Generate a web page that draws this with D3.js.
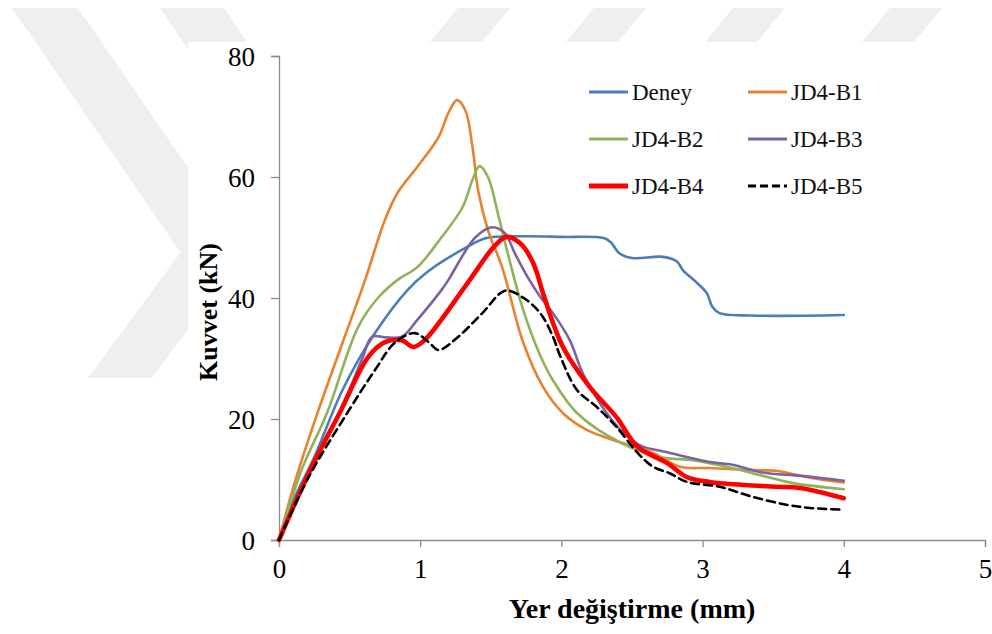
<!DOCTYPE html>
<html>
<head>
<meta charset="utf-8">
<script src="https://cdn.jsdelivr.net/npm/d3@7"></script>
<style>
  body { margin: 0; background: #fff; }
  svg { display: block; font-family: 'Liberation Serif', 'Times New Roman', serif; }
</style>
</head>
<body>
<div id="chart"></div>
<script>
// values: [displacement mm, force kN]
const deney = [[0,0],[0.1,6.5],[0.25,13.7],[0.45,24.8],[0.68,34.2],[0.91,41.3],[1.05,44.3],[1.33,48.4],[1.47,49.9],[1.73,50.2],[2.0,50.1],[2.3,49.9],[2.35,49.2],[2.41,47.4],[2.5,46.6],[2.72,46.8],[2.82,46.0],[2.86,44.6],[2.96,42.5],[3.03,40.8],[3.07,38.5],[3.12,37.5],[3.34,37.1],[4.0,37.2]]
const jd4b1 = [[0,0],[0.11,9.4],[0.28,21.5],[0.45,32.6],[0.61,43],[0.75,52.9],[0.84,57.4],[0.98,61.7],[1.13,66.6],[1.2,70.6],[1.26,72.7],[1.32,71],[1.37,65],[1.41,57.8],[1.48,51.2],[1.58,45.1],[1.73,32.6],[1.87,25.3],[2.01,21],[2.18,18.2],[2.41,16.2],[2.65,14.4],[2.84,12.1],[3.05,11.9],[3.29,11.6],[3.53,11.4],[3.76,10.3],[4.0,9.5]]
const jd4b2 = [[0,0],[0.16,11.6],[0.34,21],[0.56,35.2],[0.7,40],[0.84,43],[0.98,45.1],[1.15,50],[1.3,55],[1.37,59.5],[1.42,61.8],[1.48,60],[1.55,54],[1.62,47.4],[1.73,38],[1.85,30.5],[1.94,26.4],[2.11,21],[2.41,16.2],[2.7,13.7],[2.93,13.2],[3.17,12.1],[3.41,10.7],[3.64,9.4],[4.0,8.4]]
const jd4b3 = [[0,0],[0.25,13],[0.41,20],[0.59,30],[0.66,33.6],[0.75,33.5],[0.87,33.6],[0.98,36.4],[1.15,41.3],[1.2,43],[1.39,50],[1.51,51.7],[1.6,50.7],[1.67,47.4],[1.76,43.5],[1.85,40.2],[1.94,37.5],[2.06,33],[2.15,27.6],[2.29,22],[2.44,17.7],[2.56,15.6],[2.75,14.5],[2.89,13.7],[3.05,12.9],[3.22,12.4],[3.41,11.2],[3.7,10.6],[4.0,9.8]]
const jd4b4 = [[0,0],[0.21,11],[0.44,21.5],[0.63,30.2],[0.75,32.7],[0.87,33],[0.95,31.9],[1.03,33],[1.33,42.3],[1.52,48.4],[1.61,50.1],[1.71,49],[1.8,45.8],[1.87,40.8],[1.94,35.9],[2.02,31.5],[2.2,25.3],[2.39,20.3],[2.54,15.4],[2.75,12.7],[2.89,10.4],[3.05,9.6],[3.29,9.1],[3.53,8.8],[3.69,8.6],[4.0,6.9]]
const jd4b5 = [[0,0],[0.21,10.4],[0.47,20.5],[0.68,28.1],[0.82,32.6],[0.96,34.2],[1.06,32.7],[1.13,31.4],[1.27,33.6],[1.44,37.5],[1.6,41.2],[1.72,40.2],[1.85,37.5],[1.94,33.6],[1.99,30.5],[2.11,24.8],[2.25,22],[2.39,18.7],[2.54,14.4],[2.65,12.1],[2.77,11],[2.89,9.6],[3.12,8.8],[3.36,7.1],[3.6,5.8],[3.76,5.3],[4.0,5.0]]

const seriesNames = ['Deney', 'JD4-B1', 'JD4-B2', 'JD4-B3', 'JD4-B4', 'JD4-B5']
const xTicks = [0, 1, 2, 3, 4, 5]
const yTicks = [0, 20, 40, 60, 80]

const series = [deney, jd4b1, jd4b2, jd4b3, jd4b4, jd4b5].map((values, i) => ({
  name: seriesNames[i],
  values: values
}))

const colorScale = d3
  .scaleOrdinal()
  .domain(seriesNames)
  .range(['#4a7ebb', '#e9822f', '#8fb35a', '#7b63a0', '#ff0000', '#000000'])

const widthScale = d3
  .scaleOrdinal()
  .domain(seriesNames)
  .range([2.6, 2.6, 2.6, 2.6, 4.6, 2.6])

const width = 992
const height = 634

const svg = d3
  .select('#chart')
  .append('svg')
  .attr('width', width)
  .attr('height', height)

// faint watermark behind the chart area
const wm = svg.append('g').attr('fill', '#efefef')
wm.append('polygon').attr('points', '12,8 78,8 300,330 234,330')
wm.append('polygon').attr('points', '88,378 152,378 320,150 256,150')
wm.append('polygon').attr('points', '160,8 224,8 300,120 236,120')
;[430, 566, 705, 862].forEach(x0 => {
  wm.append('polygon').attr('points', `${x0},42 ${x0 + 52},42 ${x0 + 80},8 ${x0 + 28},8`)
})
svg
  .append('rect')
  .attr('x', 188)
  .attr('y', 42)
  .attr('width', width - 188)
  .attr('height', height - 42)
  .attr('fill', '#ffffff')

const xPositionScale = d3.scaleLinear().domain([0, 5]).range([279, 985])
const yPositionScale = d3.scaleLinear().domain([0, 80]).range([540, 56])

// axes
const xAxis = d3.axisBottom(xPositionScale).tickValues(xTicks).tickSize(7).tickPadding(12).tickFormat(d3.format('d'))
const yAxis = d3.axisLeft(yPositionScale).tickValues(yTicks).tickSize(8).tickPadding(16).tickFormat(d3.format('d'))

const gx = svg.append('g').attr('transform', 'translate(0,540)').call(xAxis)
const gy = svg.append('g').attr('transform', 'translate(279,0)').call(yAxis)

;[gx, gy].forEach(g => {
  g.select('.domain').attr('stroke', '#8c8c8c').attr('stroke-width', 1.3)
  g.selectAll('.tick line').attr('stroke', '#8c8c8c').attr('stroke-width', 1.3)
  g.selectAll('.tick text')
    .attr('fill', '#000')
    .style('font-family', "'Liberation Serif', serif")
    .style('font-size', '27px')
})
gy.selectAll('.tick text').attr('dy', '0.35em')

// curves
const line = d3
  .line()
  .x(d => xPositionScale(d[0]))
  .y(d => yPositionScale(d[1]))
  .curve(d3.curveCatmullRom.alpha(0.5))

svg
  .append('g')
  .selectAll('path')
  .data(series)
  .enter()
  .append('path')
  .attr('d', d => line(d.values))
  .attr('fill', 'none')
  .attr('stroke', d => colorScale(d.name))
  .attr('stroke-width', d => widthScale(d.name))
  .attr('stroke-dasharray', d => (d.name === 'JD4-B5' ? '8,5' : null))
  .attr('stroke-linejoin', 'round')
  .attr('stroke-linecap', 'round')

// legend, two columns
const legend = svg
  .append('g')
  .selectAll('g')
  .data(series)
  .enter()
  .append('g')
  .attr('transform', (d, i) => `translate(${i % 2 === 0 ? 589 : 748},${92 + Math.floor(i / 2) * 47})`)

legend
  .append('line')
  .attr('x1', 0)
  .attr('x2', 39)
  .attr('stroke', d => colorScale(d.name))
  .attr('stroke-width', d => (d.name === 'JD4-B4' ? 5 : 3))
  .attr('stroke-dasharray', d => (d.name === 'JD4-B5' ? '8,4' : null))

legend
  .append('text')
  .text(d => d.name)
  .attr('x', 43)
  .attr('dy', '0.35em')
  .style('font-size', '23px')
  .attr('fill', '#111')

// axis titles
svg
  .append('text')
  .text('Yer değiştirme (mm)')
  .attr('x', 632)
  .attr('y', 618)
  .attr('text-anchor', 'middle')
  .style('font-size', '28px')
  .style('font-weight', 'bold')

svg
  .append('text')
  .text('Kuvvet (kN)')
  .attr('transform', 'translate(217,312) rotate(-90)')
  .attr('text-anchor', 'middle')
  .style('font-size', '26px')
  .style('font-weight', 'bold')
</script>
</body>
</html>
